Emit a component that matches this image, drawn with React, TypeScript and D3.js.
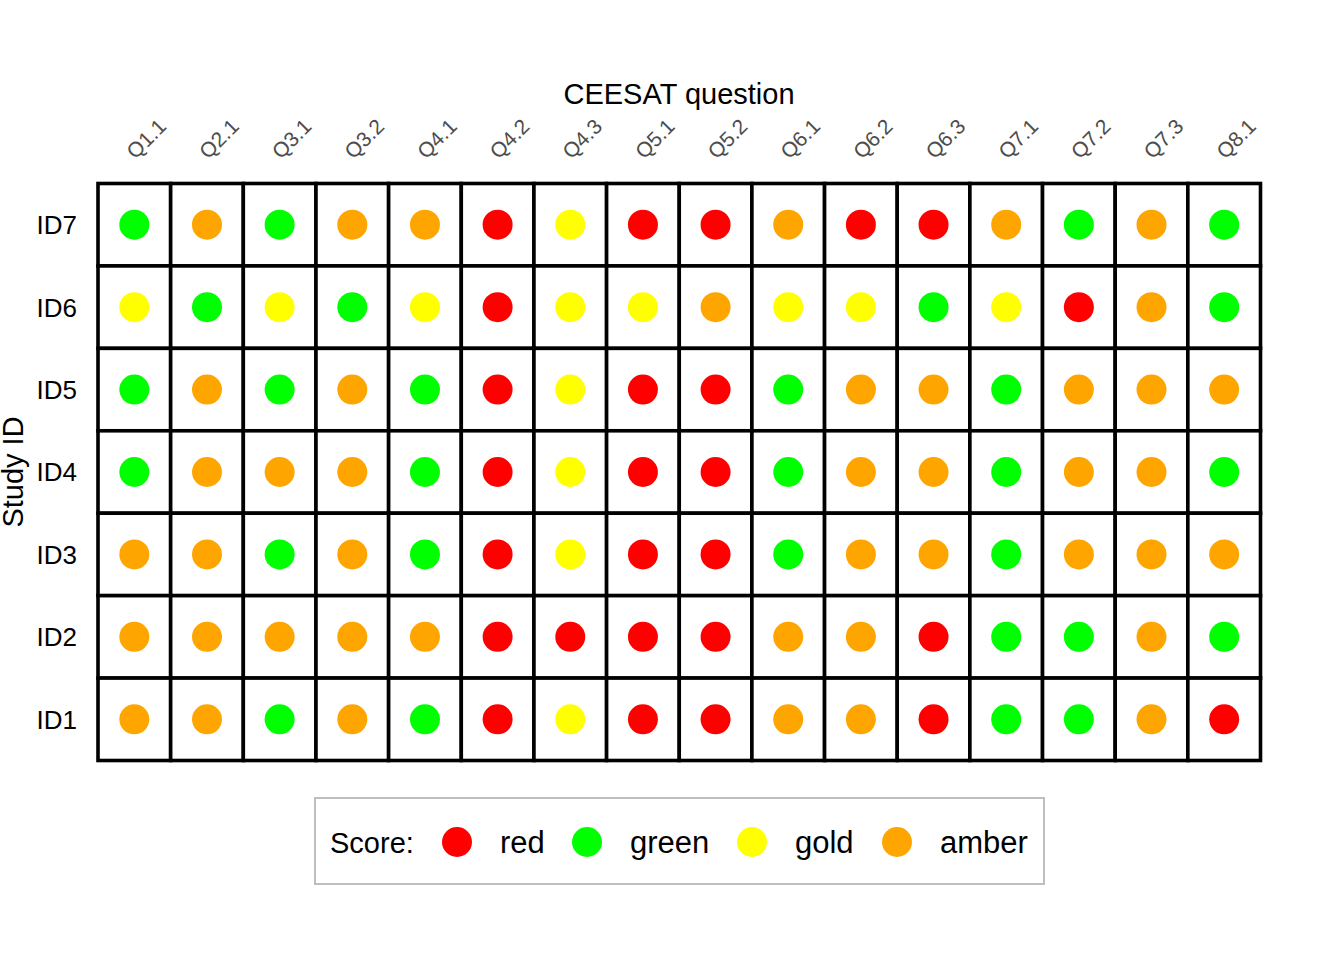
import React from "react";
import * as d3 from "d3";

const questions = ["Q1.1","Q2.1","Q3.1","Q3.2","Q4.1","Q4.2","Q4.3","Q5.1","Q5.2","Q6.1","Q6.2","Q6.3","Q7.1","Q7.2","Q7.3","Q8.1"];
const studyIds = ["ID7","ID6","ID5","ID4","ID3","ID2","ID1"];
const scoreLevels = ["red","green","gold","amber"];
const scoreColors = ["#FF0000","#00FF00","#FFFF00","#FFA500"];

// R = red, G = green, Y = gold, A = amber
const scoresID7 = "G A G A A R Y R R A R R A G A G";
const scoresID6 = "Y G Y G Y R Y Y A Y Y G Y R A G";
const scoresID5 = "G A G A G R Y R R G A A G A A A";
const scoresID4 = "G A A A G R Y R R G A A G A A G";
const scoresID3 = "A A G A G R Y R R G A A G A A A";
const scoresID2 = "A A A A A R R R R A A R G G A G";
const scoresID1 = "A A G A G R Y R R A A R G G A R";
const scoreRows = [scoresID7, scoresID6, scoresID5, scoresID4, scoresID3, scoresID2, scoresID1];
const codeToLevel: Record<string,string> = { R: "red", G: "green", Y: "gold", A: "amber" };

const FONT = "'Liberation Sans', Arial, sans-serif";

export default function App() {
  const W = 1344, H = 960;
  const x = d3.scaleBand().domain(questions).range([98, 1260.5]);
  const y = d3.scaleBand().domain(studyIds).range([183.5, 760.5]);
  const color = d3.scaleOrdinal<string,string>().domain(scoreLevels).range(scoreColors);

  const cells: { q: string; id: string; level: string }[] = [];
  studyIds.forEach((id, i) => {
    scoreRows[i].split(" ").forEach((c, j) => {
      cells.push({ q: questions[j], id, level: codeToLevel[c] });
    });
  });

  const legendCircleX = [457, 587, 752, 897];
  const legendY = 842;

  return (
    <div style={{ position: "absolute", left: 0, top: 0 }}>
      <svg width={W} height={H} style={{ display: "block", background: "#fff" }} fontFamily={FONT}>
        <rect x={0} y={0} width={W} height={H} fill="#fff" />
        {cells.map((c, k) => (
          <rect key={"t" + k} x={x(c.q)!} y={y(c.id)!} width={x.bandwidth()} height={y.bandwidth()}
            fill="#fff" stroke="#000" strokeWidth={3.6} />
        ))}
        {cells.map((c, k) => (
          <circle key={"c" + k} cx={x(c.q)! + x.bandwidth() / 2} cy={y(c.id)! + y.bandwidth() / 2}
            r={15} fill={color(c.level)} />
        ))}
        {questions.map((q) => {
          const ax = x(q)! + x.bandwidth() / 2 + 1;
          const ay = 160;
          return (
            <text key={q} x={ax} y={ay} transform={`rotate(-45 ${ax} ${ay})`} fontSize={21} fill="#4D4D4D">{q}</text>
          );
        })}
        {studyIds.map((id) => (
          <text key={id} x={77} y={y(id)! + y.bandwidth() / 2} dy="0.36em" textAnchor="end" fontSize={26} fill="#000">{id}</text>
        ))}
        <text x={679} y={104} textAnchor="middle" fontSize={29} fill="#000">CEESAT question</text>
        <text transform={`translate(23 472) rotate(-90)`} textAnchor="middle" fontSize={29} fill="#000">Study ID</text>
        <rect x={315} y={798} width={729} height={86} fill="#fff" stroke="#BEBEBE" strokeWidth={2} />
        <text x={330} y={853} fontSize={29} fill="#000">Score:</text>
        {scoreLevels.map((lv, i) => (
          <g key={lv}>
            <circle cx={legendCircleX[i]} cy={legendY} r={15} fill={color(lv)} />
            <text x={legendCircleX[i] + 43} y={853} fontSize={31} fill="#000">{lv}</text>
          </g>
        ))}
      </svg>
    </div>
  );
}
